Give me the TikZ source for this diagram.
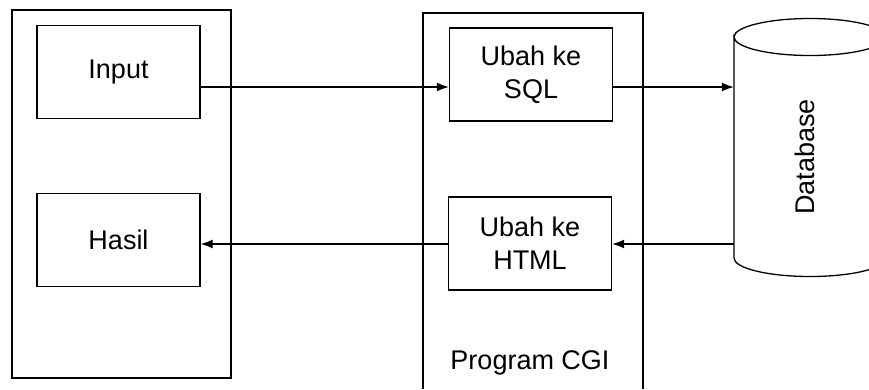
\documentclass[tikz,border=0pt]{standalone}
\usepackage{fontspec}
\setmainfont{Liberation Sans}
\usetikzlibrary{arrows.meta}
\begin{document}
\begin{tikzpicture}[x=1pt,y=-1pt,
  txt/.style={font=\fontsize{27}{33}\selectfont},
  box/.style={draw,line width=1.3pt,minimum width=163pt,minimum height=93pt,inner sep=0pt,align=center,txt},
  outer/.style={draw,line width=1.3pt},
  conn/.style={line width=1.3pt,-{Latex[length=12pt,width=9pt]}}]
\useasboundingbox (0,0) rectangle (869,389);
\clip (0,0) rectangle (869,389);
% outer frames
\draw[outer] (12,10) rectangle (231,378);
\draw[outer] (423,389) -- (423,13) -- (643,13) -- (643,389);
% inner boxes
\node[box] (input) at (118.5,72) {Input};
\node[box] (hasil) at (118.5,240) {Hasil};
\node[box] (sql) at (531,74.5) {Ubah ke\\SQL};
\node[box] (html) at (530,243.5) {Ubah ke\\HTML};
\node[txt] (cgi) at (530,363) {Program CGI};
% database cylinder
\node[minimum width=152pt,minimum height=221pt,inner sep=0pt] (db) at (810,147.5) {};
\draw[line width=1.3pt,fill=white] (734,258) -- (734,37) arc[start angle=180,end angle=0,x radius=76,y radius=18.5]
  -- (886,258) arc[start angle=0,end angle=180,x radius=76,y radius=18.5];
\draw[line width=1.3pt] (734,37) arc[start angle=180,end angle=360,x radius=76,y radius=18.5];
\node[txt,rotate=90] (dbl) at (805,157) {Database};
% connectors
\draw[conn] (input.east |- 0,87) -- (sql.west |- 0,87);
\draw[conn] (sql.east |- 0,87) -- (db.west |- 0,87);
\draw[conn] (db.west |- 0,244) -- (html.east |- 0,244);
\draw[conn] (html.west |- 0,244) -- (hasil.east |- 0,244);
\end{tikzpicture}
\end{document}
